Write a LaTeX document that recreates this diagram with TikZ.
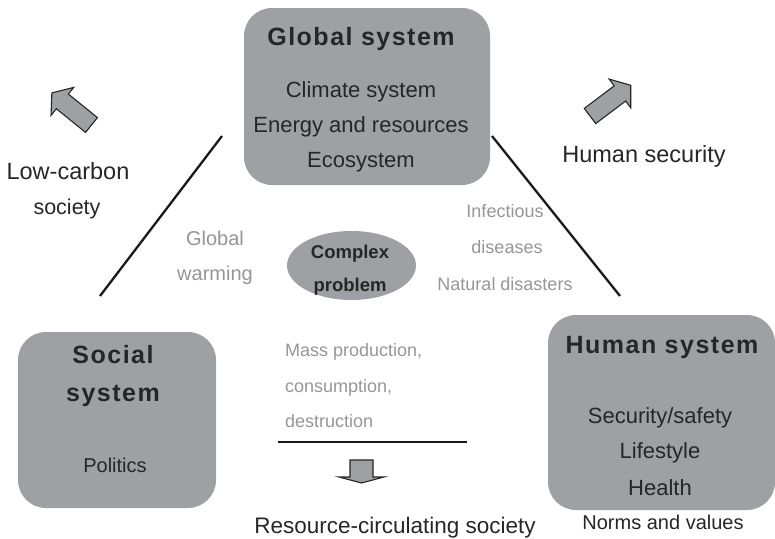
\documentclass[tikz,border=0pt]{standalone}
\usepackage{fontspec}
\setmainfont{Liberation Sans}
\newfontfamily\titlefont[LetterSpace=6]{Liberation Sans Bold}
\usetikzlibrary{shapes.geometric}
\definecolor{boxgray}{RGB}{159,160,164}
\definecolor{txtgray}{RGB}{150,150,150}
\tikzset{
  sysbox/.style={fill=boxgray, draw=none, rounded corners=28pt, inner sep=0pt},
  title/.style={anchor=base, inner sep=0pt, font=\titlefont\fontsize{25}{30}\selectfont, text=black!85},
  item/.style={anchor=base, inner sep=0pt, font=\fontsize{22}{26}\selectfont, text=black!85},
  note/.style={anchor=base, inner sep=0pt, font=\fontsize{18}{22}\selectfont, text=txtgray},
  blockarrow/.style={fill=boxgray, draw=black!85, line width=1.1pt, line join=miter},
  sep/.style={line width=2.3pt, black!90}
}
\begin{document}
\begin{tikzpicture}[x=1pt,y=1pt]
\useasboundingbox (0,0) rectangle (775,-538);
% boxes
\node[sysbox, minimum width=246pt, minimum height=177pt] (global) at (367,-96.5) {};
\node[sysbox, minimum width=198pt, minimum height=176pt] (social) at (117,-420) {};
\node[sysbox, minimum width=227pt, minimum height=195pt] (human) at (661.5,-412.5) {};
\node[ellipse, fill=boxgray, draw=none, inner sep=0pt, minimum width=129pt, minimum height=69pt] (complex) at (351.5,-265.5) {};
% global system texts
\node[title] (gt) at (361,-45) {Global system};
\node[item] (g1) at (361,-97) {Climate system};
\node[item] (g2) at (361,-132) {Energy and resources};
\node[item] (g3) at (361,-167) {Ecosystem};
% social system texts
\node[title] (st1) at (113,-363) {Social};
\node[title] (st2) at (113,-401) {system};
\node[item, font=\fontsize{20}{24}\selectfont] (s1) at (115,-472) {Politics};
% human system texts
\node[title] (ht) at (662,-353) {Human system};
\node[item] (h1) at (660,-423) {Security/safety};
\node[item] (h2) at (660,-458) {Lifestyle};
\node[item] (h3) at (660,-495) {Health};
\node[item, font=\fontsize{20}{24}\selectfont] (h4) at (663,-529) {Norms and values};
% complex problem
\node[anchor=base, inner sep=0pt, font=\bfseries\fontsize{18.5}{22}\selectfont, text=black!85] (c1) at (350,-258) {Complex};
\node[anchor=base, inner sep=0pt, font=\bfseries\fontsize{18.5}{22}\selectfont, text=black!85] (c2) at (350,-291) {problem};
% grey notes
\node[note, font=\fontsize{20}{24}\selectfont] (gw1) at (215,-245) {Global};
\node[note, font=\fontsize{20}{24}\selectfont] (gw2) at (215,-280) {warming};
\node[note] (n1) at (505,-217) {Infectious};
\node[note] (n2) at (507,-253) {diseases};
\node[note] (n3) at (505,-290) {Natural disasters};
\node[note, anchor=base west] (m1) at (285,-356) {Mass production,};
\node[note, anchor=base west] (m2) at (285,-392) {consumption,};
\node[note, anchor=base west] (m3) at (285,-427) {destruction};
% outer labels
\node[item, font=\fontsize{23.5}{28}\selectfont] (lc1) at (68,-179) {Low-carbon};
\node[item, font=\fontsize{21.5}{26}\selectfont] (lc2) at (67,-214) {society};
\node[item, font=\fontsize{23.5}{28}\selectfont] (hs) at (644,-162) {Human security};
\node[item, font=\fontsize{22.5}{27}\selectfont] (rc) at (395,-533) {Resource-circulating society};
% separator lines
\coordinate (l1a) at (222,-136);
\coordinate (l1b) at (100,-296);
\coordinate (l2a) at (492,-136);
\coordinate (l2b) at (620,-296);
\coordinate (l3a) at (278,-442);
\coordinate (l3b) at (467,-442);
\draw[sep] (l1a) -- (l1b);
\draw[sep] (l2a) -- (l2b);
\draw[sep] (l3a) -- (l3b);
% block arrows
\draw[blockarrow, shift={(91.5,-125)}, rotate=141] (0,-9.5) -- (37.5,-9.5) -- (37.5,-18) -- (51,0) -- (37.5,18) -- (37.5,9.5) -- (0,9.5) -- cycle;
\draw[blockarrow, shift={(590,-116)}, rotate=37] (0,-9.5) -- (37.5,-9.5) -- (37.5,-18) -- (51,0) -- (37.5,18) -- (37.5,9.5) -- (0,9.5) -- cycle;
\draw[blockarrow] (350,-460) -- (373,-460) -- (373,-477) -- (384,-477) -- (361.5,-483) -- (339,-477) -- (350,-477) -- cycle;
\end{tikzpicture}
\end{document}
